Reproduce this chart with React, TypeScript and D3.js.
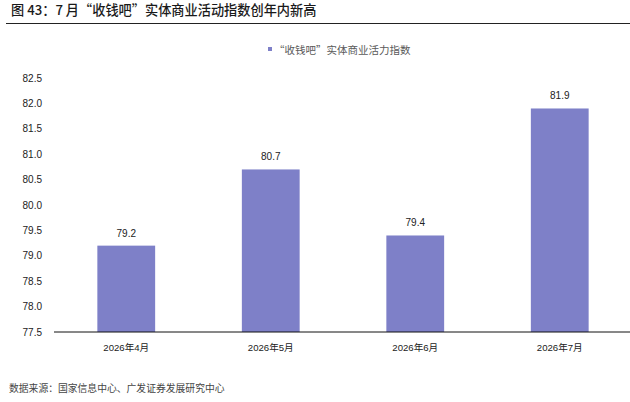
import React from 'react';
import * as d3 from 'd3';

const categories = ['2026年4月', '2026年5月', '2026年6月', '2026年7月'];
const values = [79.2, 80.7, 79.4, 81.9];
const yTicks = [77.5, 78.0, 78.5, 79.0, 79.5, 80.0, 80.5, 81.0, 81.5, 82.0, 82.5];

const title = '图 43：7 月“收钱吧”实体商业活动指数创年内新高';
const legendLabel = '“收钱吧”实体商业活力指数';
const source = '数据来源：国家信息中心、广发证券发展研究中心';

const width = 630;
const height = 402;
const barColor = '#7E80C8';
const fontFamily = '"Liberation Sans", Arial, "Noto Sans CJK SC", sans-serif';
const cjk = '"Noto Sans CJK SC", sans-serif';

const App: React.FC = () => {
  const x = d3.scaleBand<string>()
    .domain(categories)
    .range([54, 632])
    .paddingInner(0.6)
    .paddingOuter(0.3);

  const y = d3.scaleLinear()
    .domain([77.5, 82.5])
    .range([332, 78]);

  return (
    <svg
      width={width}
      height={height}
      style={{ position: 'absolute', left: 0, top: 0, fontFamily }}
    >
      <rect width={width} height={height} fill="#fff" />

      {/* title */}
      <text x={11} y={14.5} fontSize={13.2} fontWeight={500} fill="#1a1a1a" style={{ fontFamily: cjk }}>
        {title}
      </text>
      <line x1={6} x2={630} y1={23.5} y2={23.5} stroke="#222" strokeWidth={1} />

      {/* legend */}
      <rect x={268} y={47} width={4} height={4} fill={barColor} />
      <text x={274} y={53.5} fontSize={10.5} fill="#595959" style={{ fontFamily: cjk }}>
        {legendLabel}
      </text>

      {/* y tick labels */}
      {yTicks.map(t => (
        <text key={t} x={42} y={y(t)} dy="0.35em" textAnchor="end" fontSize={10} fill="#222">
          {t.toFixed(1)}
        </text>
      ))}

      {/* bars */}
      {values.map((v, i) => {
        const bx = x(categories[i]) ?? 0;
        return (
          <g key={categories[i]}>
            <rect x={bx} y={y(v)} width={x.bandwidth()} height={y(77.5) - y(v)} fill={barColor} />
            <text x={bx + x.bandwidth() / 2} y={y(v) - 9} textAnchor="middle" fontSize={10} fill="#222">
              {v.toFixed(1)}
            </text>
          </g>
        );
      })}

      {/* x axis */}
      <line x1={54} x2={630} y1={y(77.5)} y2={y(77.5)} stroke="#111" strokeWidth={1} />
      {categories.map(c => (
        <text key={c} x={(x(c) ?? 0) + x.bandwidth() / 2} y={351} textAnchor="middle" fontSize={9.6} fill="#222">
          {c}
        </text>
      ))}

      {/* source */}
      <text x={9} y={392} fontSize={9.8} fill="#444" style={{ fontFamily: cjk }}>
        {source}
      </text>
    </svg>
  );
};

export default App;
